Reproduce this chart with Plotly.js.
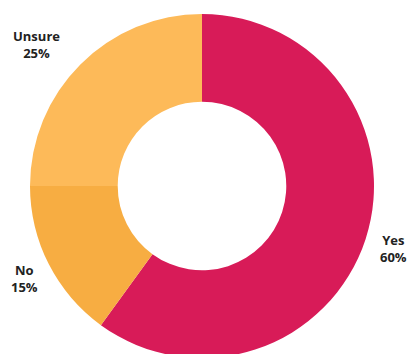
<!DOCTYPE html>
<html><head><meta charset="utf-8">
<script src="https://cdn.plot.ly/plotly-3.0.1.min.js"></script>
<style>html,body{margin:0;padding:0;overflow:hidden;background:#fff;width:409px;height:354px}#c{width:409px;height:372px}</style>
</head><body><div id="c"></div>
<script>
const labels = ["Yes", "No", "Unsure"];
const values = [60, 15, 25];
const colors = ["#D81B58", "#F7AD42", "#FDBA59"];
const labelPos = [[393, 249], [24, 278], [36, 44]]; // pixel centers of outside labels

const W = 409, H = 372;
const total = values.reduce((a, b) => a + b, 0);
const annotations = labels.map((l, i) => ({
  text: "<b>" + l + "</b><br><b>" + Math.round(values[i] / total * 100) + "%</b>",
  x: labelPos[i][0] / W, y: 1 - labelPos[i][1] / H,
  xref: "paper", yref: "paper", xanchor: "center", yanchor: "middle",
  showarrow: false, align: "center",
  font: {family: "Open Sans", size: 13, color: "#222"}
}));

Plotly.newPlot("c", [{
  type: "pie", labels: labels, values: values, hole: 0.49,
  sort: false, direction: "clockwise", rotation: 0,
  marker: {colors: colors, line: {width: 0}},
  textinfo: "none", hoverinfo: "label+percent",
  domain: {x: [30 / W, 374 / W], y: [14 / H, 358 / H]}
}], {
  width: W, height: H, margin: {l: 0, r: 0, t: 0, b: 0},
  showlegend: false, paper_bgcolor: "#fff", annotations: annotations
}, {displayModeBar: false, staticPlot: true});
</script></body></html>
